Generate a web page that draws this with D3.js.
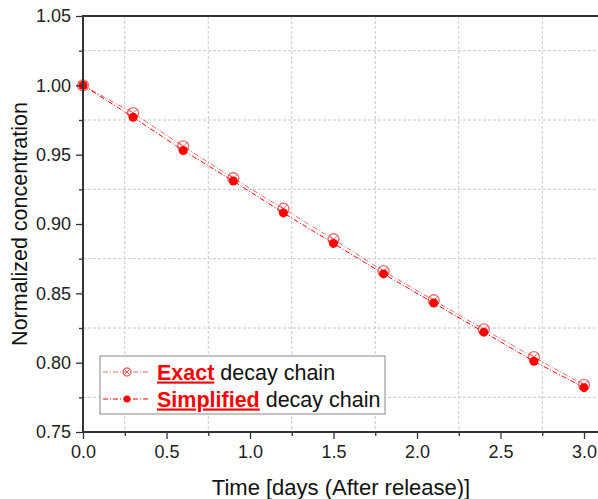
<!DOCTYPE html>
<html>
<head>
<meta charset="utf-8">
<script src="https://cdnjs.cloudflare.com/ajax/libs/d3/7.8.5/d3.min.js"></script>
<style>
  body { margin: 0; background: #fff; }
  svg { display: block; font-family: "Liberation Sans", Arial, sans-serif; }
</style>
</head>
<body>
<div id="chart"></div>
<script>
// chart data
const times = [0.0, 0.3, 0.6, 0.9, 1.2, 1.5, 1.8, 2.1, 2.4, 2.7, 3.0];
const exactVals = [1.000, 0.980, 0.956, 0.933, 0.911, 0.889, 0.866, 0.845, 0.824, 0.804, 0.784];
const simplifiedVals = [1.000, 0.977, 0.953, 0.931, 0.908, 0.886, 0.864, 0.843, 0.822, 0.801, 0.782];
const xTicks = [0.0, 0.5, 1.0, 1.5, 2.0, 2.5, 3.0];
const xMinor = [0.25, 0.75, 1.25, 1.75, 2.25, 2.75];
const yTicks = [0.75, 0.80, 0.85, 0.90, 0.95, 1.00, 1.05];
const yMinor = [0.775, 0.825, 0.875, 0.925, 0.975, 1.025];

const WIDTH = 598, HEIGHT = 499;
const RED = '#ff0000';
const EXACT_COLOR = 'rgba(235, 40, 40, 0.7)';
const GRID_COLOR = '#c8c8c8';
const AXIS_COLOR = '#333';

let svg = d3.select("#chart")
    .append("svg")
    .attr("width", WIDTH)
    .attr("height", HEIGHT);

let x = d3.scaleLinear().domain([0, 3]).range([83, 584]);
let y = d3.scaleLinear().domain([0.75, 1.05]).range([432, 16]);
const plotRight = x(3.12);

// grid (at minor positions)
svg.append("g").selectAll("line").data(xMinor).enter()
    .append("line")
    .attr("x1", d => x(d)).attr("x2", d => x(d))
    .attr("y1", y(1.05)).attr("y2", y(0.75))
    .attr("stroke", GRID_COLOR).attr("stroke-width", 1)
    .attr("stroke-dasharray", "3,2");
svg.append("g").selectAll("line").data(yMinor).enter()
    .append("line")
    .attr("x1", x(0)).attr("x2", plotRight)
    .attr("y1", d => y(d)).attr("y2", d => y(d))
    .attr("stroke", GRID_COLOR).attr("stroke-width", 1)
    .attr("stroke-dasharray", "3,2");

// series lines
let exactPts = times.map((t, i) => [t, exactVals[i]]);
let simpPts = times.map((t, i) => [t, simplifiedVals[i]]);
let line = d3.line().x(d => x(d[0])).y(d => y(d[1]));

svg.append("path")
    .datum(exactPts)
    .attr("d", line)
    .attr("fill", "none")
    .attr("stroke", EXACT_COLOR)
    .attr("stroke-width", 1)
    .attr("stroke-dasharray", "5,2,1,2");
svg.append("path")
    .datum(simpPts)
    .attr("d", line)
    .attr("fill", "none")
    .attr("stroke", RED)
    .attr("stroke-width", 1)
    .attr("stroke-dasharray", "5,2,1,2");

// exact markers: open circle with a cross
function exactMarker(g, cx, cy, r) {
    let k = r * 0.7;
    g.append("circle")
        .attr("cx", cx).attr("cy", cy).attr("r", r)
        .attr("fill", "none").attr("stroke", EXACT_COLOR).attr("stroke-width", 1.3);
    g.append("path")
        .attr("d", `M${cx - k},${cy - k}L${cx + k},${cy + k}M${cx - k},${cy + k}L${cx + k},${cy - k}`)
        .attr("stroke", EXACT_COLOR).attr("stroke-width", 1);
}
let exactG = svg.append("g");
exactPts.forEach(d => exactMarker(exactG, x(d[0]), y(d[1]), 5.5));

svg.append("g").selectAll("circle").data(simpPts).enter()
    .append("circle")
    .attr("cx", d => x(d[0]))
    .attr("cy", d => y(d[1]))
    .attr("r", 4.5)
    .attr("fill", RED);

// axes
svg.append("g")
    .attr("transform", `translate(${x(0)},0)`)
    .call(d3.axisLeft(y).tickValues(yTicks).tickFormat(d3.format(".2f")).tickSize(7).tickSizeOuter(0).tickPadding(5));
svg.append("g")
    .attr("transform", `translate(${x(0)},0)`)
    .call(d3.axisLeft(y).tickValues(yMinor).tickFormat("").tickSize(4).tickSizeOuter(0));

svg.append("g")
    .attr("transform", `translate(0,${y(0.75)})`)
    .call(d3.axisBottom(x).tickValues(xTicks).tickFormat(d3.format(".1f")).tickSize(7).tickSizeOuter(0).tickPadding(6));
svg.append("g")
    .attr("transform", `translate(0,${y(0.75)})`)
    .call(d3.axisBottom(x).tickValues(xMinor).tickFormat("").tickSize(4).tickSizeOuter(0));

// frame lines (plot continues past the right edge)
svg.selectAll(".domain").remove();
svg.append("line")
    .attr("x1", x(0)).attr("x2", plotRight)
    .attr("y1", y(0.75)).attr("y2", y(0.75))
    .attr("stroke", AXIS_COLOR).attr("stroke-width", 2);
svg.append("line")
    .attr("x1", x(0)).attr("x2", plotRight)
    .attr("y1", y(1.05)).attr("y2", y(1.05))
    .attr("stroke", AXIS_COLOR).attr("stroke-width", 2);
svg.append("line")
    .attr("x1", x(0)).attr("x2", x(0))
    .attr("y1", y(1.05) - 1).attr("y2", y(0.75) + 1)
    .attr("stroke", AXIS_COLOR).attr("stroke-width", 2);

svg.selectAll(".tick line").attr("stroke", AXIS_COLOR).attr("stroke-width", 1.3);
svg.selectAll(".tick text")
    .style("font-size", "18px")
    .style("font-family", '"Liberation Sans", Arial, sans-serif')
    .attr("fill", "#222");

// axis titles
svg.append("text")
    .attr("x", 341)
    .attr("y", 495)
    .style("text-anchor", "middle")
    .style("font-size", "22px")
    .attr("fill", "#111")
    .text("Time [days (After release)]");
svg.append("text")
    .attr("transform", `translate(27, ${y(0.9)}) rotate(-90)`)
    .style("text-anchor", "middle")
    .style("font-size", "21.5px")
    .attr("fill", "#111")
    .text("Normalized concentration");

// legend
let legend = svg.append("g");
legend.append("rect")
    .attr("x", 100).attr("y", 356)
    .attr("width", 285).attr("height", 58)
    .attr("fill", "#fff")
    .attr("stroke", "#888").attr("stroke-width", 1);

const legendRows = [
    {bold: "Exact", rest: " decay chain", cy: 372},
    {bold: "Simplified", rest: " decay chain", cy: 399}
];
legendRows.forEach((row, i) => {
    legend.append("line")
        .attr("x1", 103).attr("x2", 150)
        .attr("y1", row.cy).attr("y2", row.cy)
        .attr("stroke", i == 0 ? EXACT_COLOR : RED)
        .attr("stroke-width", 1)
        .attr("stroke-dasharray", "5,2,1,2");
    if (i == 0) {
        exactMarker(legend, 127, row.cy, 4);
    } else {
        legend.append("circle").attr("cx", 127).attr("cy", row.cy).attr("r", 3.5).attr("fill", RED);
    }
    let t = legend.append("text")
        .attr("x", 157)
        .attr("y", row.cy + 7.5)
        .style("font-size", "21.5px");
    t.append("tspan")
        .attr("fill", RED)
        .style("font-weight", "bold")
        .style("text-decoration", "underline")
        .text(row.bold);
    t.append("tspan")
        .attr("fill", "#111")
        .text(row.rest);
});
</script>
</body>
</html>
